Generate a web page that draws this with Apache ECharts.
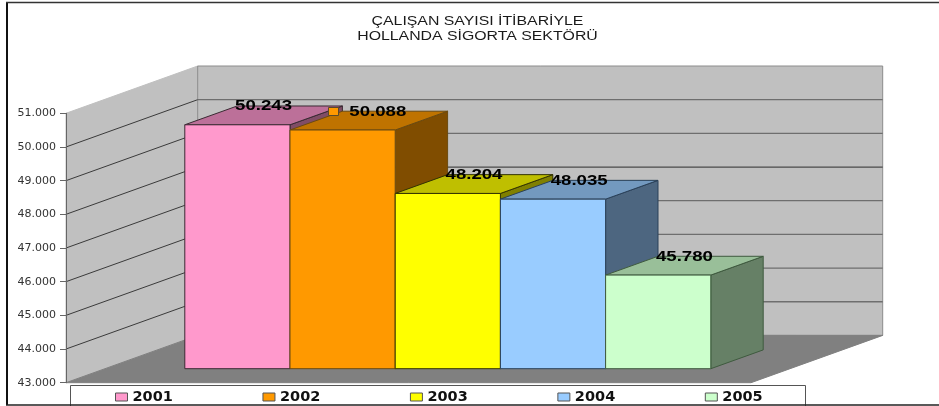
<!DOCTYPE html>
<html><head><meta charset="utf-8">
<style>html,body{margin:0;padding:0;background:#fff}#c{width:939px;height:406px}</style>
<script src="https://cdn.jsdelivr.net/npm/echarts@6/dist/echarts.min.js"></script>
</head><body><div id="c"></div>
<script>
const years = ['2001','2002','2003','2004','2005'];
const employees = [50243,50088,48204,48035,45780];
const yMin = 43000, yMax = 51000, yStep = 1000;
const frontColors = ['#FF99CC','#FF9900','#FFFF00','#99CCFF','#CCFFCC'];
const topColors = ['#BC7099','#BF7300','#BFBF00','#7399BF','#99BF99'];
const sideColors = ['#804D66','#804D00','#808000','#4D6680','#668066'];
const edgeColors = ['#3a2a33','#6b4a10','#333300','#2a4058','#3f5a3f'];
const titleLines = ['ÇALIŞAN SAYISI İTİBARİYLE','HOLLANDA SİGORTA SEKTÖRÜ'];

const W = {left:66, width:684, top:113.3, height:269.4, dx:131.7, dy:47.3};
const B = {left:184.8, width:526, top:99.3, height:269.4, dx:52.4, dy:18.8};
const fmt = v => String(v).replace(/\B(?=(\d{3})+$)/g,'.');
const poly = (points,fill,stroke,lw) => ({type:'polygon',shape:{points},style:{fill,stroke,lineWidth:lw||1}});

function renderWalls(params, api){
  const children = [];
  const xL = W.left, xR = W.left+W.width+1;
  const y0 = api.coord([0,yMin])[1], y1 = api.coord([0,yMax])[1];
  children.push(poly([[xL,y1],[xL+W.dx,y1-W.dy],[xL+W.dx,y0-W.dy],[xL,y0]],'#C0C0C0','#C0C0C0'));
  children.push(poly([[xL+W.dx,y1-W.dy],[xR+W.dx,y1-W.dy],[xR+W.dx,y0-W.dy],[xL+W.dx,y0-W.dy]],'#C0C0C0','#8c8c8c'));
  children.push(poly([[xL,y0],[xL+W.dx,y0-W.dy],[xR+W.dx,y0-W.dy],[xR,y0]],'#808080','#808080'));
  for(let v=yMin+yStep;v<yMax;v+=yStep){
    const y = api.coord([0,v])[1];
    children.push({type:'line',shape:{x1:xL,y1:y,x2:xL+W.dx,y2:y-W.dy},style:{stroke:'#3a3a3a',lineWidth:1}});
    children.push({type:'line',shape:{x1:xL+W.dx,y1:y-W.dy,x2:xR+W.dx,y2:y-W.dy},style:{stroke:v===48000?'#4a4a4a':'#6e6e6e',lineWidth:1.3}});
  }
  return {type:'group',children};
}
function renderBar(params, api){
  const i = api.value(0), v = api.value(1);
  const s = params.seriesIndex-1;
  const top = api.coord([i,v]), base = api.coord([i,yMin]);
  const w = api.size([1,0])[0];
  const xl = top[0]-w/2, xr = top[0]+w/2, yt = top[1], yb = base[1];
  const e = edgeColors[s];
  const cx = top[0]+B.dx/2, ly = yt-B.dy+0.5;
  const children = [
    poly([[xr,yt],[xr+B.dx,yt-B.dy],[xr+B.dx,yb-B.dy],[xr,yb]],sideColors[s],e),
    poly([[xl,yt],[xl+B.dx,yt-B.dy],[xr+B.dx,yt-B.dy],[xr,yt]],topColors[s],e),
    {type:'rect',shape:{x:xl,y:yt,width:xr-xl,height:yb-yt},style:{fill:frontColors[s],stroke:e,lineWidth:1}}
  ];
  const hasKey = s===1;
  const lx = hasKey ? cx+9 : cx;
  children.push({type:'text',z2:10,x:lx,y:ly,scaleX:1.33,style:{text:fmt(v),x:0,y:0,align:'center',verticalAlign:'middle',fill:'#000',font:'bold 14px "Liberation Sans"'}});
  if(hasKey) children.push({type:'rect',z2:10,shape:{x:328.5,y:107.5,width:10,height:8},style:{fill:frontColors[s],stroke:'#5a4a2a',lineWidth:1}});
  return {type:'group',children};
}
const series = [{
  type:'custom',name:'walls',xAxisIndex:0,yAxisIndex:0,silent:true,z:1,
  data:[[0,yMin]],renderItem:renderWalls,clip:false
}].concat(years.map((y,i)=>({
  type:'custom',name:y,xAxisIndex:1,yAxisIndex:1,z:2+i,clip:false,
  itemStyle:{color:frontColors[i]},
  encode:{x:0,y:1},data:[[i,employees[i]]],renderItem:renderBar
})));
const chart = echarts.init(document.getElementById('c'),null,{renderer:'canvas'});
chart.setOption({
  animation:false,backgroundColor:'#fff',
  grid:[
    {left:W.left,width:W.width,top:W.top,height:W.height},
    {left:B.left,width:B.width,top:B.top,height:B.height}
  ],
  xAxis:[
    {gridIndex:0,type:'category',data:years,show:false},
    {gridIndex:1,type:'category',data:years,show:false}
  ],
  yAxis:[
    {gridIndex:0,type:'value',min:yMin,max:yMax,interval:yStep,splitLine:{show:false},z:20,
     axisLine:{show:true,lineStyle:{color:'#666',width:1}},
     axisTick:{show:true,length:6,lineStyle:{color:'#666'}},
     axisLabel:{margin:10,color:'#333',fontFamily:'"DejaVu Sans"',fontSize:11,padding:[2,0,0,0],formatter:v=>fmt(v)}},
    {gridIndex:1,type:'value',min:yMin,max:yMax,interval:yStep,show:false}
  ],
  legend:{left:115,top:389.5,padding:0,itemWidth:12,itemHeight:8,itemGap:89.6,icon:'rect',
    selectedMode:false,z:30,
    textStyle:{fontFamily:'"DejaVu Sans"',fontWeight:'bold',fontSize:14.5,color:'#111'},
    data:years.map((y,i)=>({name:y,itemStyle:{color:frontColors[i],borderColor:'#555',borderWidth:1}}))},
  graphic:[
    {type:'text',x:477.5,y:14,scaleX:1.32,style:{text:titleLines.join('\n'),x:0,y:0,align:'center',lineHeight:15,fill:'#1a1a1a',font:'12px "Liberation Sans"'}},
    {type:'rect',z:-1,shape:{x:70.5,y:385.5,width:735,height:22},style:{fill:'#fff',stroke:'#555',lineWidth:1}},
    {type:'line',z:100,shape:{x1:7,y1:2,x2:7,y2:405},style:{stroke:'#111',lineWidth:2}},
    {type:'line',z:100,shape:{x1:6,y1:2.5,x2:939,y2:2.5},style:{stroke:'#333',lineWidth:1.5}},
    {type:'line',z:100,shape:{x1:6,y1:405,x2:939,y2:405},style:{stroke:'#222',lineWidth:1.5}}
  ],
  series
});
</script></body></html>
